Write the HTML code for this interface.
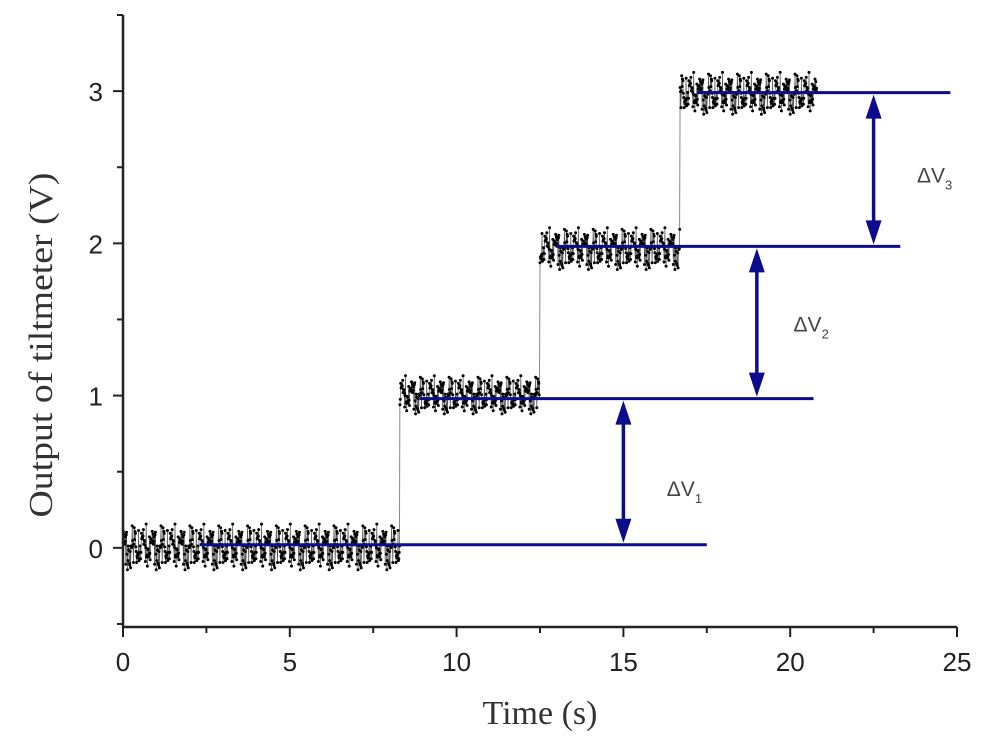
<!DOCTYPE html>
<html><head><meta charset="utf-8"><style>
html,body{margin:0;padding:0;background:#fff;}
svg{display:block;}
text{font-family:"Liberation Sans",sans-serif;}
</style></head><body>
<svg id="chart" width="986" height="745" viewBox="0 0 986 745">
<g id="plot"></g>
<g id="axes"></g>
</svg>
<script>
const xTicks=[0,5,10,15,20,25];
const yTicks=[0,1,2,3];
const stepStarts=[0,8.3,12.5,16.7];
const stepEnds=[8.3,12.5,16.7,20.8];
const stepLevels=[0.0,1.0,1.96,2.98];
const stepNoise=[0.12,0.1,0.11,0.11];
const refLevels=[0.02,0.98,1.98,2.99];
const refStarts=[2.3,8.9,13.0,17.2];
const refEnds=[17.5,20.7,23.3,24.8];
const arrowX=[15,19,22.5];
const arrowFrom=[0.02,0.98,1.98];
const arrowTo=[0.98,1.98,2.99];
const labelX=[16.3,20.1,23.8];
const labelY=[0.34,1.42,2.4];
const jitter=[0.3,-0.5,0.8,-0.2,0.1,-0.9,0.6,0.4,-0.7,0.2,-0.1,0.9,-0.4,0.5,-0.8,0.0,0.7,-0.3,0.35,-0.6,1.1,-0.15,0.25,-1.0,0.55,-0.45,0.05,0.85,-0.65,0.15,-0.25,0.45,-0.85,0.75,-0.05,0.6,-0.55,1.2,-0.35,0.3,-0.75,0.1,0.9,-0.95,0.2,-0.1,0.65,-0.4,0.4,-1.2,0.5,0.0,-0.6,0.8,-0.2,0.35,-0.5,1.0,-0.3,0.15,-0.7,0.45,1.3,-0.25,0.05,-1.1,0.6,-0.35,0.2,0.95,-0.8,0.1];
const ns='http://www.w3.org/2000/svg';
const X0=123,X1=957,XMIN=0,XMAX=25,Y0=627,Y1=15,YMIN=-0.52,YMAX=3.5;
function sx(v){return X0+(v-XMIN)/(XMAX-XMIN)*(X1-X0);}
function sy(v){return Y0-(v-YMIN)/(YMAX-YMIN)*(Y0-Y1);}
function mk(tag,attrs,parent){const e=document.createElementNS(ns,tag);for(const k in attrs)e.setAttribute(k,attrs[k]);parent.appendChild(e);return e;}
const plot=document.getElementById('plot'),axes=document.getElementById('axes');
let pts=[];let j=0;
for(let s=0;s<stepLevels.length;s++){
  for(let t=stepStarts[s];t<stepEnds[s];t+=0.012){pts.push([t,stepLevels[s]+stepNoise[s]*jitter[j%jitter.length]]);j+=11;}
}
const line=mk('polyline',{points:pts.map(p=>sx(p[0]).toFixed(1)+','+sy(p[1]).toFixed(1)).join(' '),fill:'none',stroke:'#555','stroke-width':0.7},plot);


const dots=mk('g',{fill:'#000'},plot);


pts.forEach(p=>{mk('circle',{cx:sx(p[0]).toFixed(1),cy:sy(p[1]).toFixed(1),r:1.5},dots);});
for(let i=0;i<refLevels.length;i++){
  const l=mk('line',{x1:sx(refStarts[i]),x2:sx(refEnds[i]),y1:sy(refLevels[i]),y2:sy(refLevels[i]),stroke:'#0c0c8c','stroke-width':3},plot);
  
  
}
for(let i=0;i<arrowX.length;i++){
  const g=mk('g',{fill:'#0c0c8c',stroke:'#0c0c8c'},plot);
  
  
  const x=sx(arrowX[i]),ya=sy(arrowFrom[i]),yb=sy(arrowTo[i]);
  mk('line',{x1:x,x2:x,y1:yb+20,y2:ya-20,'stroke-width':3.5},g);
  mk('polygon',{points:`${x},${yb+2} ${x-8},${yb+26} ${x+8},${yb+26}`,stroke:'none'},g);
  mk('polygon',{points:`${x},${ya-2} ${x-8},${ya-26} ${x+8},${ya-26}`,stroke:'none'},g);
  const t=mk('text',{x:sx(labelX[i]),y:sy(labelY[i]),'font-size':21,fill:'#444',stroke:'none'},plot);
  
  
  t.innerHTML='ΔV<tspan font-size="13" dy="7">'+(i+1)+'</tspan>';
}
mk('line',{x1:X0,x2:X0,y1:Y1,y2:Y0,stroke:'#222','stroke-width':2.5},axes);
mk('line',{x1:X0,x2:X1,y1:Y0,y2:Y0,stroke:'#222','stroke-width':2.5},axes);
xTicks.forEach((v,i)=>{
  mk('line',{x1:sx(v),x2:sx(v),y1:Y0,y2:Y0+10,stroke:'#222','stroke-width':2},axes);
  if(i<xTicks.length-1){const m=sx(v+2.5);mk('line',{x1:m,x2:m,y1:Y0,y2:Y0+6,stroke:'#222','stroke-width':2},axes);}
  const t=mk('text',{x:sx(v),y:Y0+44,'font-size':26,'text-anchor':'middle',fill:'#222'},axes);
  
  
  t.textContent=v;
});
yTicks.forEach(v=>{
  mk('line',{x1:X0-10,x2:X0,y1:sy(v),y2:sy(v),stroke:'#222','stroke-width':2},axes);
  mk('line',{x1:X0-6,x2:X0,y1:sy(v+0.5),y2:sy(v+0.5),stroke:'#222','stroke-width':2},axes);
  const t=mk('text',{x:X0-20,y:sy(v)+10,'font-size':26,'text-anchor':'end',fill:'#222'},axes);
  
  
  t.textContent=v;
});
mk('line',{x1:X0-6,x2:X0,y1:sy(-0.5),y2:sy(-0.5),stroke:'#222','stroke-width':2},axes);
const xt=mk('text',{x:540,y:724,'font-size':34,'text-anchor':'middle',fill:'#333',style:'font-family:"Liberation Serif",serif'},axes);


xt.textContent='Time (s)';
const yt=mk('text',{x:0,y:0,'font-size':34,'text-anchor':'middle',fill:'#333',textLength:345,lengthAdjust:'spacingAndGlyphs',transform:'translate(52,345) rotate(-90)',style:'font-family:"Liberation Serif",serif'},axes);


yt.textContent='Output of tiltmeter (V)';
</script>
</body></html>
